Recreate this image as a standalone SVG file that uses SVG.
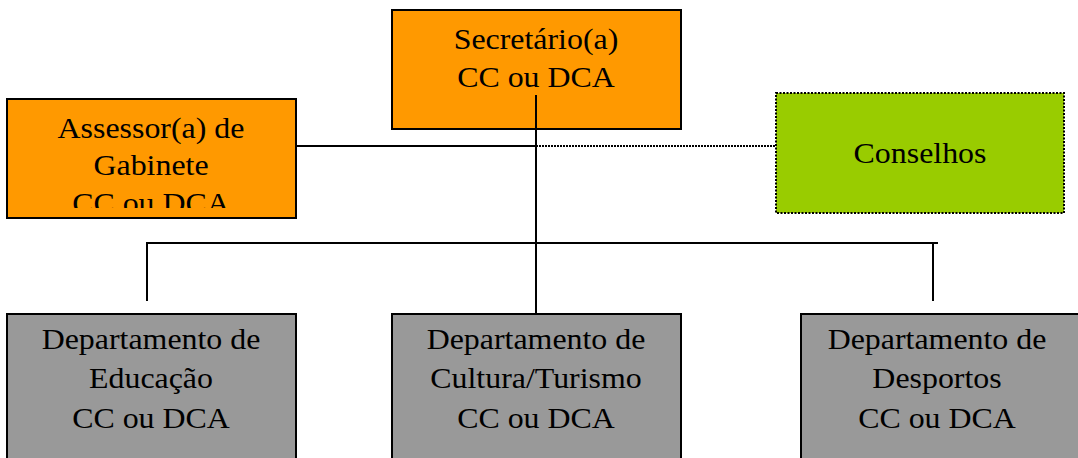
<svg xmlns="http://www.w3.org/2000/svg" width="1078" height="458" viewBox="0 0 1078 458">
<style>
.box{stroke:#000;stroke-width:2}
.org{fill:#FF9900}
.grn{fill:#99CC00;stroke-dasharray:2 1.5}
.gry{fill:#999999}
.t{font-family:"Liberation Serif","Times New Roman",serif;font-size:29px;fill:#000;text-anchor:middle}
.ln{stroke:#000;stroke-width:2;fill:none}
</style>
<defs>
<clipPath id="clipA"><rect x="8" y="100" width="287" height="108"/></clipPath>
</defs>
<rect width="1078" height="458" fill="#fff"/>
<g id="connectors">
<line class="ln" x1="296" y1="146" x2="536" y2="146"/>
<line class="ln" x1="536" y1="146" x2="776" y2="146" stroke-dasharray="2 1"/>
<line class="ln" x1="146" y1="243" x2="938" y2="243"/>
<line class="ln" x1="147" y1="242" x2="147" y2="301"/>
<line class="ln" x1="933" y1="242" x2="933" y2="301"/>
</g>
<g id="secretario">
<rect class="box org" x="392" y="10" width="289" height="119"/>
<g transform="translate(536,0) scale(1.1,1)">
<text class="t" x="0" y="49">Secretário(a)</text>
<text class="t" x="0" y="87">CC ou DCA</text>
</g>
</g>
<g id="assessor">
<rect class="box org" x="7" y="99" width="289" height="119"/>
<g clip-path="url(#clipA)">
<g transform="translate(151,0) scale(1.1,1)">
<text class="t" x="0" y="138">Assessor(a) de</text>
<text class="t" x="0" y="175">Gabinete</text>
<text class="t" x="0" y="213">CC ou DCA</text>
</g>
</g>
</g>
<g id="conselhos">
<rect class="box grn" x="776" y="93" width="288" height="120"/>
<g transform="translate(920,0) scale(1.1,1)">
<text class="t" x="0" y="163">Conselhos</text>
</g>
</g>
<line class="ln" x1="536" y1="95" x2="536" y2="314"/>
<g id="educacao">
<rect class="box gry" x="7" y="314" width="289" height="150"/>
<g transform="translate(151,0) scale(1.1,1)">
<text class="t" x="0" y="349">Departamento de</text>
<text class="t" x="0" y="388">Educação</text>
<text class="t" x="0" y="428">CC ou DCA</text>
</g>
</g>
<g id="cultura">
<rect class="box gry" x="392" y="314" width="289" height="150"/>
<g transform="translate(536,0) scale(1.1,1)">
<text class="t" x="0" y="349">Departamento de</text>
<text class="t" x="0" y="388">Cultura/Turismo</text>
<text class="t" x="0" y="428">CC ou DCA</text>
</g>
</g>
<g id="desportos">
<rect class="box gry" x="801" y="314" width="289" height="150"/>
<g transform="translate(937,0) scale(1.1,1)">
<text class="t" x="0" y="349">Departamento de</text>
<text class="t" x="0" y="388">Desportos</text>
<text class="t" x="0" y="428">CC ou DCA</text>
</g>
</g>
</svg>
